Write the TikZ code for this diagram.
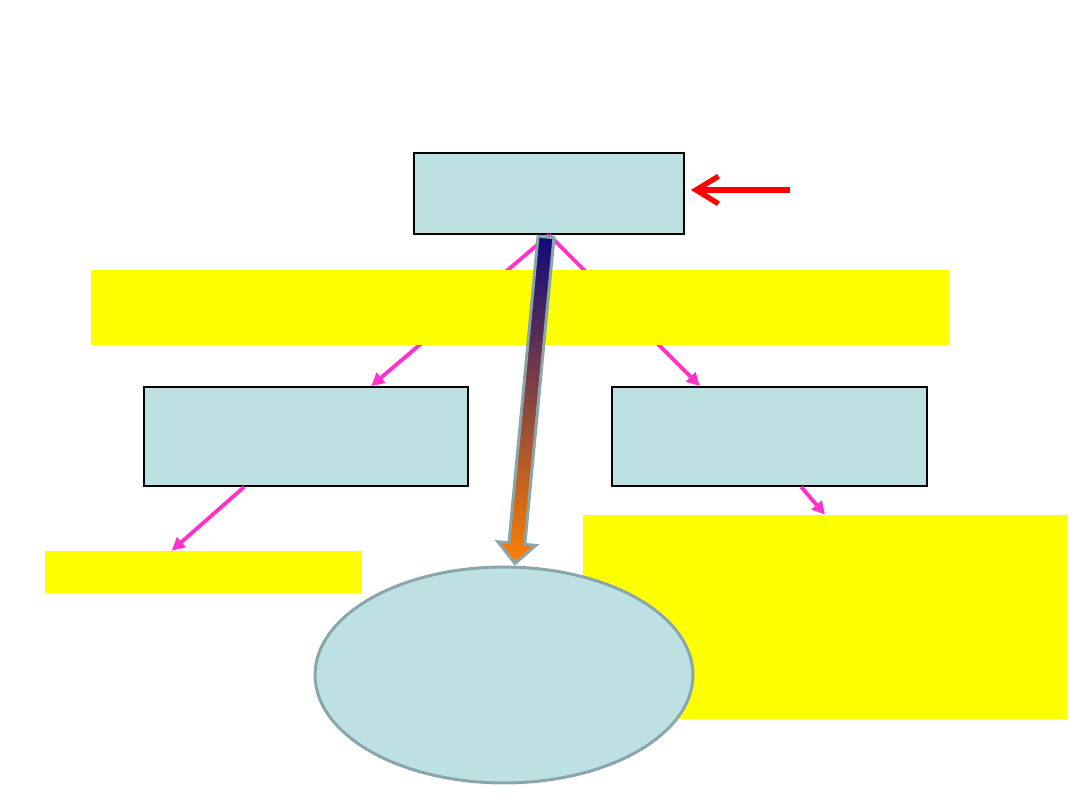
\documentclass[tikz,border=0pt]{standalone}
\usetikzlibrary{calc,arrows.meta,shapes.geometric}
\definecolor{boxblue}{RGB}{189,224,227}
\definecolor{edgegrey}{RGB}{138,166,171}
\definecolor{noteyellow}{RGB}{255,255,0}
\definecolor{linkpink}{RGB}{255,51,204}
\definecolor{deepnavy}{RGB}{15,10,125}
\definecolor{hotorange}{RGB}{255,128,0}
\begin{document}
\begin{tikzpicture}[x=0.02cm,y=-0.02cm,
  box/.style={rectangle,draw=black,line width=1.1pt,fill=boxblue,inner sep=0pt},
  note/.style={rectangle,fill=noteyellow,inner sep=0pt},
  link/.style={draw=linkpink,line width=2.2pt,-{Triangle[length=0.26cm,width=0.26cm]}},
  feed/.style={draw=red,line width=3pt,shorten >=0.12cm,-{Straight Barb[length=0.45cm,width=0.55cm]}}]
\useasboundingbox (0,0) rectangle (1080,810);

\node[box, minimum width=5.4cm, minimum height=1.62cm] (top) at (549,193.5) {};
\node[box, minimum width=6.48cm, minimum height=1.98cm] (left) at (306,436.5) {};
\node[box, minimum width=6.3cm, minimum height=1.98cm] (right) at (769.5,436.5) {};
\node[note, minimum width=6.34cm, minimum height=0.84cm] (noteL) at (203.5,572) {};
\node[note, minimum width=9.68cm, minimum height=4.08cm] (noteR) at (825,617) {};
\node[ellipse, draw=edgegrey, line width=1.7pt, fill=boxblue,
      minimum width=7.56cm, minimum height=4.32cm] (ell) at (504,675) {};

% links from the boxes
\draw[link] (top.south) -- ($(left.north west)!0.7!(left.north east)$);
\draw[link] (top.south) -- ($(right.north west)!0.28!(right.north east)$);
\draw[link] ($(left.south west)!0.31!(left.south east)$) -- ($(noteL.north west)!0.4!(noteL.north east)$);
\draw[link] ($(right.south west)!0.6!(right.south east)$) -- (noteR.north);

\node[note, minimum width=17.16cm, minimum height=1.5cm] (band) at (520,307.5) {};

% red arrow into the top box
\coordinate (redsrc) at (790,190);
\draw[feed] (redsrc) -- (top.east |- redsrc);

% shaded arrow down to the ellipse
\coordinate (gs) at ([xshift=-0.06cm,yshift=-0.04cm]top.south);
\coordinate (gt) at ([xshift=0.22cm,yshift=0.04cm]ell.north);
\coordinate (hb) at ($(gt)!0.4cm!(gs)$);
\shade[top color=deepnavy, bottom color=hotorange, draw=edgegrey, line width=1.7pt]
  ($(gs)!0.16cm!90:(gt)$) -- ($(hb)!0.16cm!90:(gt)$) -- ($(hb)!0.38cm!90:(gt)$)
  -- (gt) -- ($(hb)!0.38cm!-90:(gt)$) -- ($(hb)!0.16cm!-90:(gt)$)
  -- ($(gs)!0.16cm!-90:(gt)$) -- cycle;
\end{tikzpicture}
\end{document}
